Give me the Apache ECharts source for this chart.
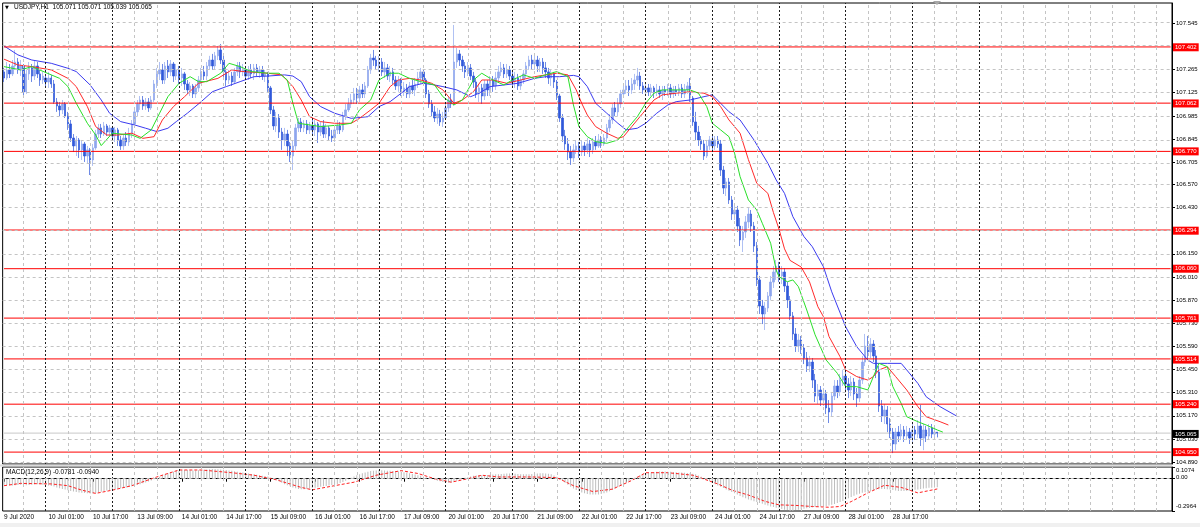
<!DOCTYPE html>
<html>
<head>
<meta charset="utf-8">
<script src="https://cdn.jsdelivr.net/npm/echarts@6/dist/echarts.min.js"></script>
<style>
html,body{margin:0;padding:0;background:#ffffff;}
#c{width:1200px;height:527px;}
</style>
</head>
<body>
<div id="c"></div>
<script>
// ---------------- DATA ----------------
const quoteHeader = ['USDJPY,H1', '105.071', '105.071', '105.039', '105.065'];
const macdHeader = ['MACD(12,26,9)', '-0.0781', '-0.0940'];
const tradingDays = ['9 Jul','10 Jul','13 Jul','14 Jul','15 Jul','16 Jul','17 Jul','20 Jul','21 Jul','22 Jul','23 Jul','24 Jul','27 Jul','28 Jul','29 Jul','30 Jul','31 Jul','3 Aug'];
const firstLabel = '9 Jul 2020';
const firstHour = 9;
const totalSlots = 421;

// H1 candles [open, close, low, high], first bar 9 Jul 09:00
const candles = [
[107.251,107.214,107.190,107.275],[107.214,107.263,107.202,107.311],[107.263,107.239,107.214,107.299],[107.239,107.287,107.226,107.323],[107.287,107.311,107.263,107.384],
[107.311,107.263,107.239,107.335],[107.263,107.287,107.226,107.323],[107.287,107.130,107.093,107.299],[107.130,107.239,107.118,107.263],[107.239,107.275,107.202,107.311],
[107.275,107.226,107.190,107.299],[107.226,107.287,107.202,107.323],[107.287,107.239,107.214,107.311],[107.239,107.202,107.166,107.263],[107.202,107.226,107.178,107.251],
// 10 Jul
[107.214,107.190,107.166,107.239],[107.190,107.214,107.154,107.251],[107.214,107.178,107.154,107.233],[107.178,107.069,107.057,107.202],[107.069,107.045,107.009,107.093],
[107.045,107.021,106.984,107.069],[107.021,107.057,106.996,107.081],[107.057,106.984,106.972,107.069],[106.984,106.936,106.900,107.009],[106.936,106.851,106.827,106.960],
[106.851,106.803,106.766,106.875],[106.803,106.839,106.742,106.863],[106.839,106.779,106.730,106.851],[106.779,106.815,106.718,106.839],[106.815,106.742,106.706,106.827],
[106.742,106.779,106.694,106.803],[106.779,106.718,106.627,106.791],[106.718,106.791,106.682,106.815],[106.791,106.875,106.779,106.900],[106.875,106.912,106.851,106.936],
[106.912,106.875,106.851,106.936],[106.875,106.924,106.863,106.948],[106.924,106.887,106.863,106.936],[106.887,106.912,106.863,106.930],
// 13 Jul
[106.912,106.863,106.839,106.924],[106.863,106.900,106.827,106.918],[106.900,106.839,106.803,106.912],[106.839,106.803,106.779,106.863],[106.803,106.851,106.779,106.875],
[106.851,106.827,106.803,106.887],[106.827,106.875,106.803,106.912],[106.875,106.936,106.851,106.960],[106.936,107.009,106.912,107.033],[107.009,107.057,106.984,107.081],
[107.057,107.081,107.021,107.105],[107.081,107.045,107.021,107.105],[107.045,107.069,107.021,107.093],[107.069,107.033,107.009,107.093],[107.033,107.081,107.021,107.105],
[107.081,107.178,107.069,107.202],[107.178,107.239,107.154,107.275],[107.239,107.263,107.202,107.311],[107.263,107.202,107.178,107.299],[107.202,107.287,107.178,107.311],
[107.287,107.251,107.214,107.323],[107.251,107.299,107.226,107.323],[107.299,107.226,107.190,107.311],[107.226,107.263,107.202,107.299],
// 14 Jul
[107.263,107.214,107.178,107.287],[107.214,107.239,107.166,107.275],[107.239,107.178,107.142,107.251],[107.178,107.142,107.118,107.202],[107.142,107.166,107.105,107.190],
[107.166,107.118,107.093,107.178],[107.118,107.154,107.093,107.178],[107.154,107.202,107.130,107.226],[107.202,107.251,107.178,107.275],[107.251,107.226,107.202,107.287],
[107.226,107.287,107.202,107.311],[107.287,107.323,107.263,107.348],[107.323,107.287,107.263,107.360],[107.287,107.348,107.263,107.372],[107.348,107.384,107.323,107.408],
[107.384,107.323,107.299,107.420],[107.323,107.251,107.214,107.348],[107.251,107.202,107.166,107.275],[107.202,107.226,107.178,107.263],[107.226,107.190,107.166,107.251],
[107.190,107.251,107.178,107.275],[107.251,107.287,107.226,107.311],[107.287,107.251,107.214,107.311],[107.251,107.263,107.226,107.299],
// 15 Jul
[107.263,107.226,107.202,107.287],[107.226,107.263,107.202,107.287],[107.263,107.239,107.214,107.299],[107.239,107.275,107.202,107.299],[107.275,107.251,107.226,107.299],
[107.251,107.263,107.214,107.287],[107.263,107.226,107.202,107.287],[107.226,107.239,107.190,107.263],[107.239,107.154,107.130,107.251],[107.154,107.021,106.996,107.166],
[107.021,106.924,106.900,107.045],[106.924,106.972,106.887,107.009],[106.972,106.887,106.851,106.996],[106.887,106.839,106.779,106.912],[106.839,106.875,106.803,106.912],
[106.875,106.803,106.742,106.900],[106.803,106.742,106.706,106.827],[106.742,106.803,106.657,106.839],[106.803,106.912,106.779,106.936],[106.912,106.948,106.887,106.972],
[106.948,106.912,106.887,106.972],[106.912,106.936,106.887,106.960],[106.936,106.900,106.875,106.960],[106.900,106.924,106.875,106.948],
// 16 Jul
[106.924,106.900,106.875,106.960],[106.900,106.936,106.863,106.960],[106.936,106.887,106.821,106.948],[106.887,106.924,106.863,106.948],[106.924,106.875,106.851,106.960],
[106.875,106.912,106.851,106.936],[106.912,106.863,106.839,106.924],[106.863,106.851,106.827,106.900],[106.851,106.900,106.827,106.924],[106.900,106.924,106.875,106.960],
[106.924,106.900,106.875,106.948],[106.900,106.984,106.887,107.009],[106.984,107.021,106.960,107.057],[107.021,107.057,107.009,107.093],[107.057,107.081,107.033,107.118],
[107.081,107.118,107.057,107.154],[107.118,107.093,107.057,107.154],[107.093,107.142,107.069,107.166],[107.142,107.118,107.093,107.178],[107.118,107.166,107.093,107.190],
[107.166,107.263,107.154,107.287],[107.263,107.335,107.239,107.360],[107.335,107.323,107.287,107.384],[107.323,107.287,107.263,107.348],
// 17 Jul
[107.287,107.311,107.251,107.348],[107.311,107.251,107.226,107.335],[107.251,107.275,107.214,107.311],[107.275,107.226,107.202,107.299],[107.226,107.251,107.190,107.287],
[107.251,107.202,107.178,107.275],[107.202,107.166,107.142,107.226],[107.166,107.202,107.130,107.226],[107.202,107.130,107.105,107.214],[107.130,107.154,107.105,107.190],
[107.154,107.118,107.093,107.178],[107.118,107.166,107.093,107.190],[107.166,107.142,107.118,107.202],[107.142,107.178,107.105,107.214],[107.178,107.214,107.154,107.251],
[107.214,107.251,107.178,107.275],[107.251,107.202,107.166,107.263],[107.202,107.118,107.093,107.214],[107.118,107.057,107.033,107.142],[107.057,107.009,106.984,107.081],
[107.009,106.972,106.948,107.045],[106.972,106.996,106.936,107.033],[106.996,106.948,106.924,107.021],[106.948,106.972,106.918,107.009],
// 20 Jul
[106.972,107.033,106.960,107.057],[107.033,107.081,107.009,107.105],[107.081,107.057,107.033,107.118],[107.057,107.311,107.045,107.535],[107.311,107.360,107.275,107.396],
[107.360,107.323,107.287,107.384],[107.323,107.287,107.251,107.348],[107.287,107.251,107.214,107.311],[107.251,107.275,107.226,107.311],[107.275,107.226,107.202,107.299],
[107.226,107.190,107.154,107.251],[107.190,107.118,107.093,107.214],[107.118,107.154,107.069,107.178],[107.154,107.105,107.057,107.178],[107.105,107.178,107.081,107.202],
[107.178,107.142,107.105,107.202],[107.142,107.202,107.105,107.226],[107.202,107.166,107.130,107.226],[107.166,107.214,107.142,107.251],[107.214,107.251,107.190,107.287],
[107.251,107.275,107.226,107.311],[107.275,107.239,107.214,107.299],[107.239,107.263,107.214,107.299],[107.263,107.226,107.202,107.287],
// 21 Jul
[107.226,107.190,107.166,107.251],[107.190,107.214,107.154,107.251],[107.214,107.166,107.142,107.239],[107.166,107.202,107.142,107.226],[107.202,107.239,107.178,107.263],
[107.239,107.287,107.214,107.311],[107.287,107.323,107.263,107.348],[107.323,107.299,107.263,107.354],[107.299,107.323,107.263,107.348],[107.323,107.287,107.251,107.348],
[107.287,107.311,107.251,107.335],[107.311,107.275,107.239,107.335],[107.275,107.251,107.214,107.311],[107.251,107.214,107.178,107.275],[107.214,107.239,107.166,107.263],
[107.239,107.190,107.154,107.251],[107.190,107.105,107.081,107.202],[107.105,106.972,106.948,107.118],[106.972,106.863,106.827,106.996],[106.863,106.815,106.779,106.900],
[106.815,106.766,106.718,106.851],[106.766,106.730,106.688,106.803],[106.730,106.779,106.706,106.815],[106.779,106.803,106.754,106.839],
// 22 Jul
[106.803,106.766,106.730,106.827],[106.766,106.803,106.742,106.839],[106.803,106.779,106.742,106.827],[106.779,106.815,106.754,106.851],[106.815,106.779,106.736,106.839],
[106.779,106.827,106.754,106.851],[106.827,106.803,106.779,106.863],[106.803,106.839,106.791,106.875],[106.839,106.815,106.791,106.863],[106.815,106.851,106.803,106.875],
[106.851,106.912,106.827,106.936],[106.912,106.960,106.887,106.996],[106.960,107.033,106.936,107.057],[107.033,107.009,106.984,107.069],[107.009,107.057,106.984,107.093],
[107.057,107.118,107.033,107.142],[107.118,107.142,107.093,107.178],[107.142,107.166,107.118,107.202],[107.166,107.142,107.105,107.202],[107.142,107.178,107.118,107.214],
[107.178,107.202,107.142,107.239],[107.202,107.226,107.166,107.275],[107.226,107.166,107.142,107.251],[107.166,107.142,107.118,107.190],
// 23 Jul
[107.142,107.154,107.118,107.178],[107.154,107.130,107.105,107.178],[107.130,107.154,107.105,107.178],[107.154,107.130,107.093,107.166],[107.130,107.142,107.105,107.178],
[107.142,107.118,107.093,107.166],[107.118,107.142,107.081,107.166],[107.142,107.130,107.105,107.166],[107.130,107.154,107.105,107.178],[107.154,107.118,107.093,107.178],
[107.118,107.142,107.093,107.166],[107.142,107.130,107.105,107.166],[107.130,107.154,107.105,107.178],[107.154,107.118,107.093,107.178],[107.118,107.142,107.093,107.178],
[107.142,107.166,107.118,107.190],[107.166,107.093,107.069,107.214],[107.093,106.948,106.924,107.105],[106.948,106.887,106.839,107.009],[106.887,106.839,106.803,106.924],
[106.839,106.815,106.779,106.863],[106.815,106.742,106.718,106.839],[106.742,106.803,106.730,106.839],[106.803,106.839,106.779,106.863],
// 24 Jul
[106.839,106.803,106.779,106.863],[106.803,106.839,106.779,106.863],[106.839,106.815,106.791,106.863],[106.815,106.657,106.621,106.839],[106.657,106.548,106.512,106.682],
[106.548,106.585,106.500,106.609],[106.585,106.476,106.452,106.609],[106.476,106.391,106.355,106.500],[106.391,106.415,106.355,106.452],[106.415,106.318,106.282,106.440],
[106.318,106.234,106.197,106.367],[106.234,106.282,106.161,106.318],[106.282,106.343,106.246,106.379],[106.343,106.391,106.306,106.427],[106.391,106.318,106.282,106.415],
[106.318,106.197,106.161,106.343],[106.197,105.992,105.955,106.222],[105.992,105.834,105.786,106.016],[105.834,105.786,105.725,105.871],[105.786,105.822,105.689,105.858],
[105.822,105.895,105.798,105.919],[105.895,105.979,105.871,106.016],[105.979,106.040,105.943,106.076],[106.040,106.076,105.992,106.113],
// 27 Jul
[106.076,106.016,105.979,106.101],[106.016,106.040,105.967,106.076],[106.040,105.955,105.919,106.064],[105.955,105.871,105.822,105.979],[105.871,105.774,105.749,105.895],
[105.774,105.665,105.628,105.798],[105.665,105.592,105.556,105.701],[105.592,105.628,105.556,105.665],[105.628,105.580,105.544,105.653],[105.580,105.519,105.483,105.604],
[105.519,105.471,105.435,105.556],[105.471,105.495,105.435,105.532],[105.495,105.386,105.338,105.519],[105.386,105.289,105.253,105.423],[105.289,105.326,105.241,105.362],
[105.326,105.265,105.229,105.350],[105.265,105.302,105.229,105.338],[105.302,105.217,105.180,105.326],[105.217,105.193,105.126,105.265],[105.193,105.289,105.168,105.314],
[105.289,105.350,105.265,105.386],[105.350,105.314,105.277,105.386],[105.314,105.386,105.289,105.423],[105.386,105.410,105.350,105.447],
// 28 Jul
[105.410,105.362,105.314,105.447],[105.362,105.326,105.277,105.398],[105.326,105.374,105.289,105.410],[105.374,105.302,105.265,105.398],[105.302,105.277,105.223,105.338],
[105.277,105.386,105.253,105.410],[105.386,105.495,105.362,105.532],[105.495,105.592,105.471,105.665],[105.592,105.556,105.507,105.653],[105.556,105.604,105.519,105.640],
[105.604,105.532,105.495,105.628],[105.532,105.435,105.398,105.568],[105.435,105.229,105.193,105.471],[105.229,105.168,105.132,105.265],[105.168,105.205,105.120,105.241],
[105.205,105.120,105.071,105.229],[105.120,105.071,105.035,105.156],[105.071,104.999,104.944,105.096],[104.999,105.071,104.962,105.096],[105.071,105.047,105.011,105.108],
[105.047,105.084,105.023,105.120],[105.084,105.047,105.011,105.108],[105.047,105.071,105.023,105.108],[105.071,105.035,104.999,105.096],
// 29 Jul
[105.035,105.084,105.011,105.120],[105.084,105.059,105.023,105.108],[105.059,105.108,105.035,105.144],[105.108,105.035,104.987,105.235],[105.035,105.084,104.962,105.120],
[105.084,105.047,105.011,105.108],[105.047,105.096,105.023,105.120],[105.096,105.059,105.035,105.120],[105.059,105.071,105.041,105.096],[105.071,105.065,105.039,105.071]
];

// Alligator lines, [bar number, price]
const jawLine = [[0,107.408],[5,107.354],[10,107.323],[17,107.303],[23,107.273],[26,107.253],[31,107.172],[35,107.081],[38,107.001],[42,106.950],[47,106.930],[51,106.910],[55,106.890],[59,106.910],[62,106.950],[66,107.001],[71,107.071],[75,107.131],[80,107.162],[85,107.192],[90,107.222],[95,107.226],[101,107.233],[104,107.226],[107,107.192],[110,107.101],[114,107.041],[119,107.001],[125,106.970],[131,106.980],[135,107.041],[139,107.071],[143,107.122],[146,107.162],[151,107.182],[155,107.172],[158,107.162],[163,107.142],[168,107.101],[171,107.122],[175,107.162],[180,107.172],[185,107.182],[191,107.212],[195,107.222],[200,107.222],[205,107.230],[207,107.222],[210,107.162],[213,107.061],[217,107.001],[221,106.940],[224,106.900],[228,106.910],[231,106.940],[235,107.001],[239,107.051],[242,107.071],[247,107.081],[252,107.101],[255,107.112],[258,107.061],[261,107.010],[265,106.960],[270,106.839],[275,106.698],[278,106.597],[281,106.516],[284,106.375],[288,106.254],[291,106.193],[295,106.072],[298,105.920],[303,105.709],[307,105.588],[311,105.507],[313,105.487],[318,105.487],[323,105.487],[325,105.447],[329,105.366],[332,105.285],[337,105.225],[343,105.168]];
const teethLine = [[0,107.328],[5,107.293],[10,107.283],[17,107.263],[23,107.212],[26,107.162],[30,107.041],[33,106.920],[37,106.869],[41,106.869],[46,106.880],[50,106.849],[54,106.859],[57,106.960],[61,107.041],[65,107.101],[70,107.182],[77,107.212],[82,107.263],[86,107.253],[95,107.243],[100,107.233],[104,107.162],[107,107.081],[110,106.980],[114,106.950],[119,106.940],[125,106.940],[128,106.970],[132,107.021],[135,107.061],[139,107.162],[142,107.202],[146,107.212],[150,107.202],[154,107.182],[158,107.142],[162,107.061],[165,107.081],[169,107.131],[172,107.202],[176,107.202],[181,107.182],[186,107.202],[191,107.222],[195,107.233],[199,107.243],[203,107.233],[206,107.142],[208,107.060],[210,106.990],[213,106.920],[217,106.880],[221,106.849],[223,106.859],[226,106.920],[230,107.001],[234,107.081],[237,107.112],[242,107.122],[247,107.131],[252,107.122],[255,107.101],[258,107.041],[261,106.960],[265,106.880],[268,106.720],[271,106.577],[275,106.516],[277,106.400],[279,106.300],[281,106.180],[283,106.110],[287,106.070],[290,105.980],[293,105.830],[295,105.770],[297,105.650],[301,105.527],[303,105.447],[307,105.407],[311,105.386],[313,105.407],[315,105.447],[318,105.467],[321,105.407],[325,105.326],[329,105.225],[332,105.164],[337,105.134],[340,105.114]];
const lipsLine = [[0,107.283],[6,107.263],[10,107.283],[17,107.233],[20,107.212],[23,107.162],[26,107.061],[30,106.940],[33,106.869],[35,106.805],[39,106.880],[46,106.869],[49,106.849],[53,106.900],[56,107.001],[59,107.101],[63,107.182],[67,107.222],[70,107.192],[73,107.192],[78,107.243],[81,107.303],[85,107.283],[89,107.253],[95,107.243],[99,107.243],[102,107.202],[104,107.061],[106,106.940],[114,106.920],[121,106.930],[125,106.940],[128,107.021],[132,107.081],[135,107.202],[139,107.243],[142,107.243],[146,107.212],[150,107.192],[155,107.172],[158,107.101],[162,107.051],[165,107.081],[169,107.202],[172,107.243],[176,107.202],[180,107.172],[183,107.202],[187,107.233],[191,107.212],[195,107.233],[199,107.253],[203,107.222],[205,107.051],[207,106.920],[210,106.859],[213,106.829],[217,106.819],[221,106.839],[224,106.900],[228,106.980],[231,107.061],[234,107.122],[237,107.142],[242,107.142],[247,107.142],[250,107.122],[253,107.041],[255,106.940],[258,106.900],[261,106.859],[263,106.760],[265,106.617],[268,106.476],[271,106.415],[273,106.335],[276,106.214],[278,106.052],[279,106.012],[282,105.981],[284,105.992],[286,105.951],[289,105.810],[292,105.660],[296,105.507],[300,105.427],[303,105.346],[307,105.346],[311,105.326],[313,105.407],[315,105.487],[318,105.467],[320,105.346],[323,105.245],[325,105.164],[329,105.134],[332,105.114],[336,105.084],[338,105.071]];

// MACD main (histogram), one value per candle
const macdMain = [
-0.055,-0.058,-0.060,-0.062,-0.060,-0.058,-0.055,-0.058,-0.060,-0.058,-0.055,-0.052,-0.050,-0.052,-0.055,
-0.058,-0.062,-0.066,-0.072,-0.080,-0.088,-0.095,-0.100,-0.106,-0.112,-0.118,-0.122,-0.126,-0.130,-0.132,-0.134,-0.136,-0.136,
-0.132,-0.126,-0.120,-0.114,-0.108,-0.104,-0.100,-0.096,-0.092,-0.088,-0.084,-0.080,-0.075,-0.070,-0.064,-0.058,-0.050,-0.042,-0.034,
-0.026,-0.016,-0.006,0.006,0.018,
0.030,0.040,0.050,0.058,0.064,0.070,0.074,0.078,0.080,0.080,0.078,0.076,0.076,0.078,0.080,0.082,0.084,0.086,0.088,0.088,0.086,0.084,0.082,0.080,0.076,0.072,0.068,
0.064,0.060,0.056,0.052,0.048,0.044,0.040,0.036,0.032,0.028,0.024,0.020,0.012,0.002,-0.010,
-0.024,-0.038,-0.050,-0.060,-0.070,-0.080,-0.088,-0.094,-0.096,-0.096,-0.094,-0.090,-0.086,-0.082,-0.078,-0.074,
-0.070,-0.066,-0.062,-0.058,-0.054,-0.048,-0.040,-0.030,-0.018,
-0.006,0.008,0.020,0.032,0.042,0.050,0.058,0.064,0.070,0.074,0.076,0.078,0.078,0.076,0.074,0.072,0.070,0.068,0.066,
0.064,0.060,0.056,0.050,0.044,0.038,0.032,0.026,0.020,0.014,0.006,-0.002,-0.010,-0.018,-0.024,-0.030,
-0.034,-0.036,-0.034,-0.026,-0.016,-0.008,0.000,0.008,0.014,
0.020,0.026,0.030,0.032,0.034,0.034,0.034,0.036,0.038,0.040,0.042,0.044,0.046,0.048,0.048,0.048,0.046,0.044,0.042,0.040,0.040,0.042,0.044,0.046,0.048,0.050,0.050,0.048,0.046,0.040,0.030,0.018,
0.002,-0.016,-0.036,-0.056,-0.074,-0.090,-0.104,-0.116,-0.126,-0.134,-0.140,-0.144,-0.146,-0.146,-0.144,-0.140,-0.134,-0.126,-0.116,-0.104,-0.090,-0.076,-0.062,-0.048,-0.034,-0.020,-0.006,0.008,
0.020,0.030,0.040,0.048,0.054,0.058,0.062,0.064,0.066,0.066,0.066,0.064,0.064,0.062,0.060,0.058,0.056,0.054,0.052,0.050,0.046,0.040,0.030,0.018,
0.004,-0.010,-0.024,-0.038,-0.050,-0.062,-0.074,-0.086,-0.098,-0.110,-0.122,-0.134,-0.146,-0.158,-0.170,-0.180,-0.190,-0.198,-0.206,-0.214,-0.222,-0.230,-0.238,-0.246,-0.254,-0.260,-0.266,-0.272,-0.278,-0.284,-0.288,-0.296,-0.296,-0.288,-0.284,-0.280,
-0.276,-0.272,-0.268,-0.264,-0.260,-0.258,-0.256,-0.254,-0.250,-0.246,-0.240,-0.232,-0.224,-0.214,-0.204,-0.192,-0.180,-0.168,
-0.156,-0.146,-0.138,-0.130,-0.124,-0.118,-0.112,-0.106,-0.100,-0.096,-0.094,-0.094,-0.096,-0.100,-0.104,-0.108,-0.112,-0.114,-0.114,-0.112,-0.110,-0.106,-0.102,-0.098,-0.094,-0.090,-0.087,-0.084,-0.082,-0.080,-0.078
];
// MACD signal, [bar number, value]
const macdSignal = [[0,-0.064],[6,-0.043],[17,-0.048],[23,-0.064],[28,-0.105],[33,-0.135],[39,-0.105],[46,-0.064],[55,0.016],[63,0.080],[71,0.080],[82,0.055],[90,0.032],[98,-0.010],[107,-0.080],[111,-0.102],[119,-0.064],[126,-0.032],[134,0.032],[143,0.074],[149,0.048],[155,0.000],[161,-0.032],[167,0.000],[172,0.032],[178,0.016],[190,0.016],[199,0.010],[205,-0.064],[212,-0.118],[219,-0.096],[226,-0.016],[231,0.055],[239,0.055],[248,0.032],[257,-0.048],[262,-0.105],[268,-0.150],[274,-0.208],[279,-0.240],[285,-0.245],[291,-0.255],[297,-0.262],[301,-0.255],[305,-0.210],[311,-0.130],[317,-0.060],[323,-0.080],[329,-0.130],[336,-0.094]];

const levelLines = [107.402, 107.062, 106.770, 106.294, 106.060, 105.761, 105.514, 105.240, 104.950];
const priceTicks = [107.545, 107.405, 107.265, 107.125, 106.985, 106.845, 106.705, 106.570, 106.430, 106.290, 106.150, 106.010, 105.870, 105.730, 105.590, 105.450, 105.310, 105.170, 105.030, 104.890];
const lastPrice = 105.065;
const macdTicks = [0.1074, 0, -0.2964];

// ---------------- LAYOUT / STYLE ----------------
const firstMidnightSlot = 15;   // 10 Jul 00:00
const barsPerDay = 24;
const gridStep = 8;
const lastSeparatorSlot = firstMidnightSlot + 14 * barsPerDay;
const labelEvery = 16;
const lastLabelSlot = 320;

const categories = [];
(function () {
  let d = 0, h = firstHour;
  for (let k = 0; k < totalSlots; k++) {
    categories.push(k === 0 ? firstLabel : tradingDays[d] + ' ' + String(h).padStart(2, '0') + ':00');
    h++;
    if (h === 24) { h = 0; d++; }
  }
})();

function lightStyle() { return { color: '#c4c4c4', type: [3, 3], width: 1 }; }
function darkStyle() { return { color: '#1e1e1e', type: [2, 2], width: 1 }; }

function verticalGrid() {
  const items = [];
  for (let k = firstMidnightSlot - gridStep; k < totalSlots; k += gridStep) {
    const isDay = (k - firstMidnightSlot) % barsPerDay === 0 && k >= firstMidnightSlot && k <= lastSeparatorSlot;
    items.push({ xAxis: k, lineStyle: isDay ? darkStyle() : lightStyle() });
  }
  return items;
}
const mainGridLines = verticalGrid().concat(priceTicks.map(v => ({ yAxis: v, lineStyle: lightStyle() })));
const macdGridLines = verticalGrid().concat([{ yAxis: 0, lineStyle: lightStyle() }]);

const font = 'Liberation Sans';
const RED = '#ff0000';
const HIDDEN_LINE = { color: 'rgba(255,255,255,0)', width: 1, type: 'solid' };

const levelLabelMarks = levelLines.map(v => ({ yAxis: v, lineStyle: HIDDEN_LINE,
    label: { show: true, position: 'end', distance: 1, formatter: v.toFixed(3), backgroundColor: RED, color: '#fff', fontSize: 6, fontFamily: font, padding: [1, 2, 1, 2] } }))
  .concat([{ yAxis: lastPrice, lineStyle: HIDDEN_LINE,
    label: { show: true, position: 'end', distance: 1, formatter: lastPrice.toFixed(3), backgroundColor: '#000', color: '#fff', fontSize: 6, fontFamily: font, padding: [1, 2, 1, 2] } }]);

// horizontal level lines as series (value held across the whole axis)
const levelSeries = levelLines.map(v => ({
  type: 'line', xAxisIndex: 0, yAxisIndex: 0, z: 4, silent: true, showSymbol: false, symbol: 'none',
  data: [[0, v], [totalSlots - 1, v]], lineStyle: { color: RED, width: 1 }
})).concat([{
  type: 'line', xAxisIndex: 0, yAxisIndex: 0, z: 1, silent: true, showSymbol: false, symbol: 'none',
  data: [[0, lastPrice], [totalSlots - 1, lastPrice]], lineStyle: { color: '#c8c8c8', width: 1 }
}]);

const macdMax = macdTicks[0], macdMin = macdTicks[2];
function macdLabel(v) {
  v = Number(v);
  if (Math.abs(v - macdMax) < 1e-9) return '{t|' + macdMax.toFixed(4) + '}';
  if (Math.abs(v - macdMin) < 1e-9) return '{b|' + macdMin.toFixed(4) + '}';
  return '{z|0.00}';
}

const chart = echarts.init(document.getElementById('c'), null, { renderer: 'canvas' });

const option = {
  animation: false,
  backgroundColor: '#ffffff',
  textStyle: { fontFamily: font },
  grid: [
    { left: 2.645, right: 28, top: 3, height: 461, show: true, borderColor: '#000', borderWidth: 1, backgroundColor: '#fff', containLabel: false, outerBoundsMode: 'none' },
    { left: 2.645, right: 28, top: 467, height: 44, show: true, borderColor: '#000', borderWidth: 1, backgroundColor: '#fff', containLabel: false, outerBoundsMode: 'none' }
  ],
  xAxis: [
    { type: 'category', gridIndex: 0, data: categories, boundaryGap: true,
      axisLine: { show: false }, axisTick: { show: false }, axisLabel: { show: false }, splitLine: { show: false } },
    { type: 'category', gridIndex: 1, data: categories, boundaryGap: true,
      axisLine: { show: true, lineStyle: { color: '#000', width: 1 } },
      axisTick: { show: true, length: 3, alignWithLabel: true, lineStyle: { color: '#000' },
        interval: (i) => i % labelEvery === 0 && i <= lastLabelSlot },
      axisLabel: { show: true, interval: (i) => i % labelEvery === 0 && i <= lastLabelSlot,
        align: 'left', margin: 3, fontSize: 6.5, color: '#000', fontFamily: font, hideOverlap: false },
      splitLine: { show: false } }
  ],
  yAxis: [
    { type: 'value', gridIndex: 0, position: 'right', min: 104.878, max: 107.668,
      axisLine: { show: true, lineStyle: { color: '#000' } },
      axisTick: { show: true, length: 3, customValues: priceTicks, lineStyle: { color: '#000' } },
      axisLabel: { show: true, customValues: priceTicks, formatter: v => Number(v).toFixed(3), fontSize: 6, margin: 4, color: '#000', fontFamily: font },
      splitLine: { show: false } },
    { type: 'value', gridIndex: 1, position: 'right', min: macdMin, max: macdMax,
      axisLine: { show: true, lineStyle: { color: '#000' } },
      axisTick: { show: true, length: 3, customValues: macdTicks, lineStyle: { color: '#000' } },
      axisLabel: { show: true, customValues: macdTicks, showMinLabel: true, showMaxLabel: true, formatter: macdLabel,
        margin: 4, color: '#000', fontSize: 6, fontFamily: font,
        rich: {
          t: { fontSize: 6, fontFamily: font, color: '#000', padding: [7, 0, 0, 0] },
          b: { fontSize: 6, fontFamily: font, color: '#000', padding: [0, 0, 9, 0] },
          z: { fontSize: 6, fontFamily: font, color: '#000', padding: [0, 0, 2, 0] }
        } },
      splitLine: { show: false } }
  ],
  series: [
    { type: 'line', name: 'grid-main', xAxisIndex: 0, yAxisIndex: 0, data: [], z: 1, silent: true,
      markLine: { symbol: ['none', 'none'], silent: true, animation: false, label: { show: false }, data: mainGridLines } },
    { type: 'line', name: 'grid-macd', xAxisIndex: 1, yAxisIndex: 1, data: [], z: 1, silent: true,
      markLine: { symbol: ['none', 'none'], silent: true, animation: false, label: { show: false }, data: macdGridLines } },
    { type: 'candlestick', name: 'USDJPY', xAxisIndex: 0, yAxisIndex: 0, data: candles, z: 2,
      barWidth: 1.9,
      itemStyle: { color: '#8ea6ee', color0: '#2f58da', borderColor: '#8ea6ee', borderColor0: '#2f58da', borderWidth: 0.7 },
      markLine: { symbol: ['none', 'none'], silent: true, animation: false, data: levelLabelMarks } },
    { type: 'line', name: 'Jaw', xAxisIndex: 0, yAxisIndex: 0, data: jawLine, z: 3, showSymbol: false, symbol: 'none',
      lineStyle: { color: '#3b3bf0', width: 1 } },
    { type: 'line', name: 'Teeth', xAxisIndex: 0, yAxisIndex: 0, data: teethLine, z: 3, showSymbol: false, symbol: 'none',
      lineStyle: { color: '#ff2a2a', width: 1 } },
    { type: 'line', name: 'Lips', xAxisIndex: 0, yAxisIndex: 0, data: lipsLine, z: 3, showSymbol: false, symbol: 'none',
      lineStyle: { color: '#28e028', width: 1 } },
    { type: 'bar', name: 'MACD', xAxisIndex: 1, yAxisIndex: 1, data: macdMain, z: 2, barWidth: 1,
      itemStyle: { color: '#bdbdbd' }, silent: true },
    { type: 'line', name: 'Signal', xAxisIndex: 1, yAxisIndex: 1, data: macdSignal, z: 3, showSymbol: false, symbol: 'none',
      lineStyle: { color: '#ff2020', width: 1, type: [3, 2] } }
  ].concat(levelSeries),
  graphic: [
    { type: 'rect', left: 0, top: 464.5, shape: { width: 1172, height: 2 }, style: { fill: '#dcdcdc' }, z: 10, silent: true },
    { type: 'rect', left: 0, top: 523, shape: { width: 1200, height: 4 }, style: { fill: '#f0f0f0' }, z: 10, silent: true },
    { type: 'polygon', shape: { points: [[933, 1], [941, 1], [937, 5]] }, style: { fill: '#a8a8a8' }, z: 10, silent: true },
    { type: 'text', left: 5, top: 5, style: { text: '\u25BC', fill: '#000', font: '5px "DejaVu Sans"' }, z: 10, silent: true },
    { type: 'text', left: 14, top: 4, style: { text: quoteHeader[0] + '  ' + quoteHeader.slice(1).join(' '), fill: '#000', font: '6.5px "Liberation Sans"' }, z: 10, silent: true },
    { type: 'text', left: 6, top: 469, style: { text: macdHeader.join(' '), fill: '#000', font: '6.5px "Liberation Sans"' }, z: 10, silent: true }
  ]
};
chart.setOption(option);
</script>
</body>
</html>
